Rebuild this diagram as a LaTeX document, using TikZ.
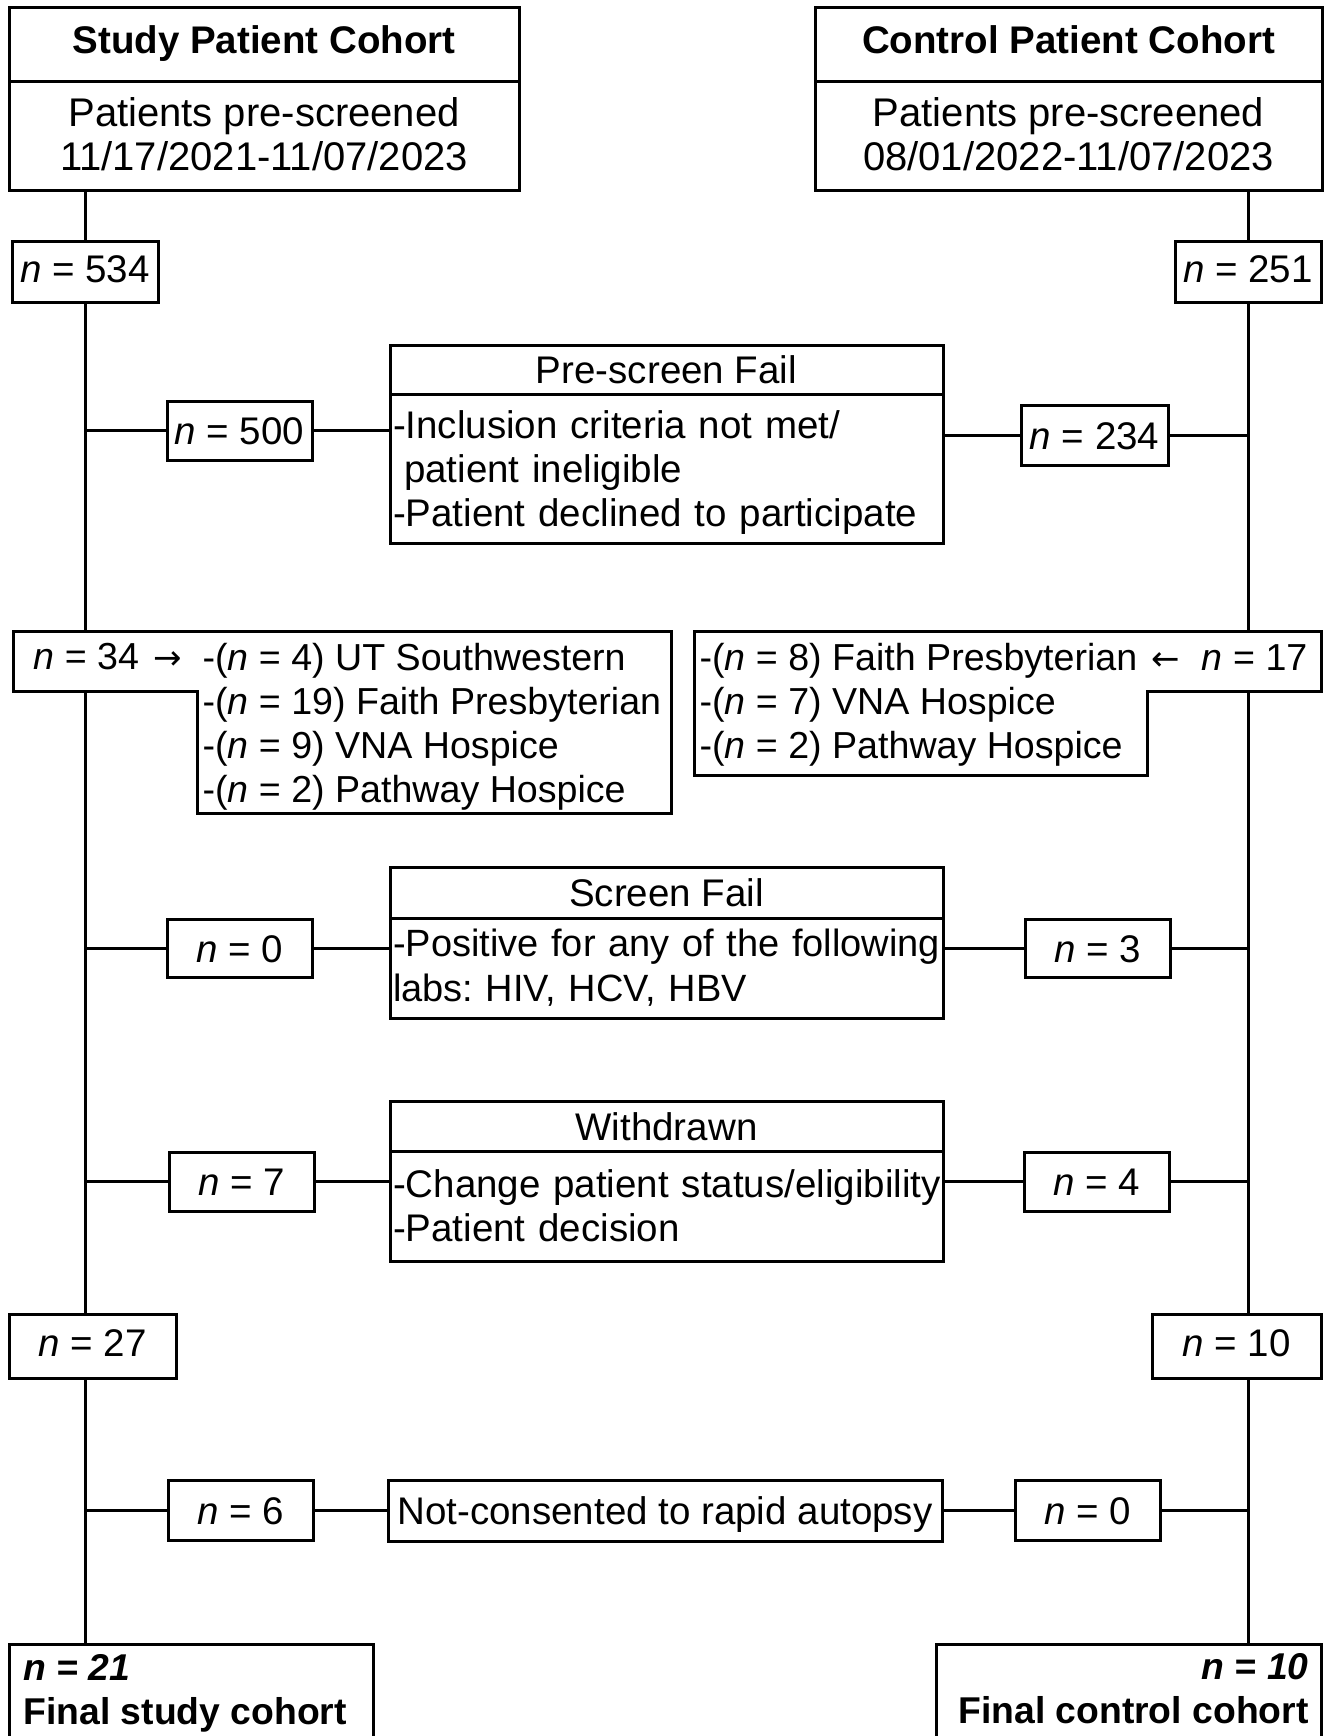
\documentclass[tikz,border=0pt]{standalone}
\usepackage{fontspec}
\setmainfont{Liberation Sans}
\newfontfamily\arrowf{DejaVu Sans}
\newcommand\regf{\fontsize{38.5}{44}\selectfont}
\newcommand\sff{\fontsize{38}{45}\selectfont}
\newcommand\hdf{\fontsize{40}{44}\selectfont}
\newcommand\lstf{\fontsize{37.6}{44}\selectfont}
\newcommand\bldf{\fontsize{38.5}{44}\selectfont\bfseries}
\newcommand\fnf{\fontsize{37.3}{44}\selectfont\bfseries}
\newcommand\rarr{{\arrowf\fontsize{34}{44}\selectfont →}}
\newcommand\larr{{\arrowf\fontsize{34}{44}\selectfont ←}}
\frenchspacing
\begin{document}
\begin{tikzpicture}[x=1pt,y=-1pt,line width=3pt,
  bx/.style={draw,line width=3pt,inner sep=0pt,font=\regf,align=center},
  one/.style={bx,text height=28pt,text depth=0pt},
  hi/.style={text depth=8pt},
  lbody/.style={bx,align=left,inner xsep=3pt,text width=547pt},
  txt/.style={inner sep=0pt,font=\regf}]
\useasboundingbox (0,0) rectangle (1327,1736);

% headers
\node[one,font=\bldf,text depth=10pt,minimum width=510pt,minimum height=74pt] (sh1) at (264,45) {Study Patient Cohort};
\node[bx,font=\hdf,minimum width=510pt,minimum height=109pt] (sh2) at (264,136.5) {Patients pre-screened\\11/17/2021-11/07/2023\rule[-5pt]{0pt}{5pt}};
\node[one,font=\bldf,text depth=10pt,minimum width=507pt,minimum height=74pt] (ch1) at (1068.5,45) {Control Patient Cohort};
\node[bx,font=\hdf,minimum width=507pt,minimum height=109pt] (ch2) at (1068.5,136.5) {Patients pre-screened\\08/01/2022-11/07/2023\rule[-5pt]{0pt}{5pt}};

% first counts
\node[one,hi,minimum width=146pt,minimum height=60pt] (n534) at (85,272) {\textit{n} = 534};
\node[one,hi,minimum width=146pt,minimum height=60pt] (n251) at (1248,272) {\textit{n} = 251};

% pre-screen fail
\node[one,minimum width=553pt,minimum height=49pt] (pft) at (666.5,369.5) {Pre-screen Fail};
\node[lbody,minimum height=149pt] (pfb) at (666.5,468.5) {\mbox{\rule{0pt}{35pt}-Inclusion criteria not met/}\\\mbox{\hspace*{11pt}patient ineligible}\\\mbox{-Patient declined to participate}};
\node[one,minimum width=145pt,minimum height=59pt] (n500) at (239.5,430.5) {\textit{n} = 500};
\node[one,minimum width=147pt,minimum height=60pt] (n234) at (1094.5,435) {\textit{n} = 234};

% site breakdown shapes
\coordinate (s34t) at (85,631);
\coordinate (s34b) at (85,691);
\coordinate (s17t) at (1248,631);
\coordinate (s17b) at (1248,691);
\draw (13,631) -- (671,631) -- (671,813) -- (197,813) -- (197,691) -- (13,691) -- cycle;
\draw (694,631) -- (1321,631) -- (1321,691) -- (1147,691) -- (1147,775) -- (694,775) -- cycle;
\node[txt,font=\lstf,anchor=west] (n34) at (32,657) {\textit{n} = 34\hspace{14pt}\rarr};
\node[txt,font=\lstf,anchor=west,align=left] (l34) at (201,727) {-(\textit{n} = 4) UT Southwestern\\-(\textit{n} = 19) Faith Presbyterian\\-(\textit{n} = 9) VNA Hospice\\-(\textit{n} = 2) Pathway Hospice};
\node[txt,font=\lstf,anchor=west,align=left] (l17) at (698,705) {-(\textit{n} = 8) Faith Presbyterian\hspace{14pt}\larr\hspace{22pt}\textit{n} = 17\\-(\textit{n} = 7) VNA Hospice\\-(\textit{n} = 2) Pathway Hospice};

% screen fail
\node[one,minimum width=553pt,minimum height=51pt] (sft) at (666.5,892.5) {Screen Fail};
\node[lbody,font=\sff,minimum height=100pt] (sfb) at (666.5,968) {\mbox{-Positive for any of the following}\\\mbox{labs: HIV, HCV, HBV}};
\node[one,minimum width=145pt,minimum height=58pt] (n0a) at (239.5,948) {\textit{n} = 0};
\node[one,minimum width=145pt,minimum height=58pt] (n3) at (1097.5,948) {\textit{n} = 3};

% withdrawn
\node[one,minimum width=553pt,minimum height=50pt] (wdt) at (666.5,1126) {Withdrawn};
\node[lbody,minimum height=110pt] (wdb) at (666.5,1206) {\mbox{-Change patient status/eligibility}\\\mbox{-Patient decision}};
\node[one,minimum width=145pt,minimum height=59pt] (n7) at (241.5,1181.5) {\textit{n} = 7};
\node[one,minimum width=145pt,minimum height=59pt] (n4) at (1096.5,1181.5) {\textit{n} = 4};

% second counts
\node[one,hi,minimum width=167pt,minimum height=64pt] (n27) at (92.5,1346) {\textit{n} = 27};
\node[one,hi,minimum width=169pt,minimum height=64pt] (n10) at (1236.5,1346) {\textit{n} = 10};

% not consented
\node[one,minimum width=554pt,minimum height=61pt] (nc) at (665,1510.5) {Not-consented to rapid autopsy};
\node[one,minimum width=145pt,minimum height=60pt] (n6) at (240.5,1510) {\textit{n} = 6};
\node[one,minimum width=145pt,minimum height=60pt] (n0b) at (1087.5,1510) {\textit{n} = 0};

% final cohorts
\node[bx,minimum width=364pt,minimum height=120pt] (fs) at (191,1704) {};
\node[txt,font=\fnf,anchor=west,align=left] (fst) at (22,1693) {\textit{n = 21}\\Final study cohort};
\node[bx,minimum width=385pt,minimum height=120pt] (fc) at (1128.5,1704) {};
\node[txt,font=\fnf,anchor=east,align=right] (fct) at (1310,1689) {\textit{n = 10}\\Final control cohort};

% connectors
\draw (sh2.south -| n534.north) -- (n534.north);
\draw (ch2.south -| n251.north) -- (n251.north);
\draw (n534.south) -- (s34t);
\draw (n251.south) -- (s17t);
\draw (n534.south |- n500.west) -- (n500.west);
\draw (n500.east) -- (n500.east -| pfb.west);
\draw (pfb.east |- n234.west) -- (n234.west);
\draw (n234.east) -- (n234.east -| n251.south);
\draw (s34b) -- (s34b |- n27.north);
\draw (s17b) -- (s17b |- n10.north);
\draw (s34b |- n0a.west) -- (n0a.west);
\draw (n0a.east) -- (n0a.east -| sfb.west);
\draw (sfb.east |- n3.west) -- (n3.west);
\draw (n3.east) -- (n3.east -| s17b);
\draw (s34b |- n7.west) -- (n7.west);
\draw (n7.east) -- (n7.east -| wdb.west);
\draw (wdb.east |- n4.west) -- (n4.west);
\draw (n4.east) -- (n4.east -| s17b);
\draw (s34b |- n27.south) -- (s34b |- fs.north);
\draw (s17b |- n10.south) -- (s17b |- fc.north);
\draw (s34b |- n6.west) -- (n6.west);
\draw (n6.east) -- (n6.east -| nc.west);
\draw (nc.east |- n0b.west) -- (n0b.west);
\draw (n0b.east) -- (n0b.east -| s17b);
\end{tikzpicture}
\end{document}
